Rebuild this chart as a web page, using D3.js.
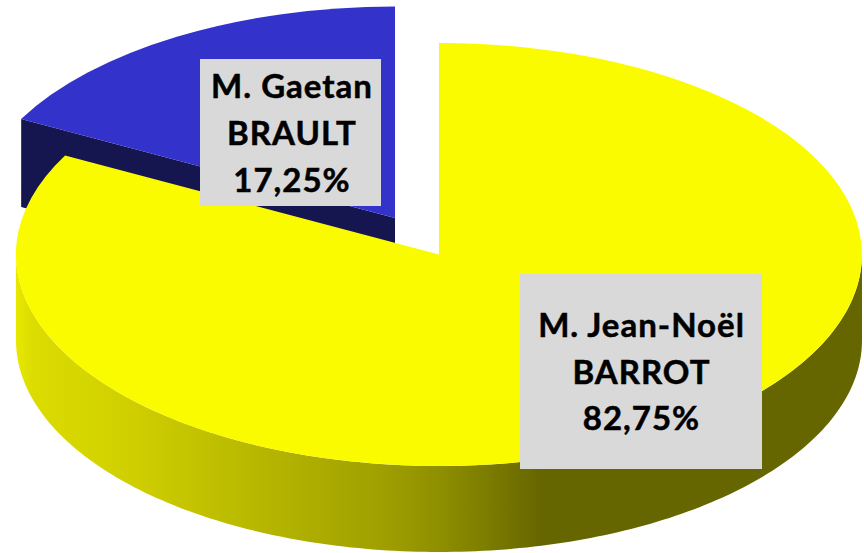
<!DOCTYPE html>
<html>
<head>
<meta charset="utf-8">
<style>html,body{margin:0;padding:0;background:#fff}svg{display:block}</style>
<script src="https://cdn.jsdelivr.net/npm/d3@7"></script>
</head>
<body>
<script>
const names = ["M. Jean-Noël BARROT", "M. Gaetan BRAULT"];
const labelLines = [["M. Jean-Noël", "BARROT", "82,75%"], ["M. Gaetan", "BRAULT", "17,25%"]];
const values = [82.75, 17.25];
const topColors = ["#fbfb00", "#3333cc"];
const cutColors = ["#666600", "#151550"];
const centers = [[439, 254.5], [395, 218]];
const depths = [86, 88];
const labelBoxes = [[520, 274, 242, 195], [200, 59, 181, 147]];
const labelBaselines = [[337, 383.5, 430], [98, 145, 192]];
const wallStops = [[0, "#e8e800"], [0.02, "#dcdc00"], [0.13, "#d0d000"], [0.28, "#b8b800"], [0.43, "#a0a000"], [0.5, "#8f8f00"], [0.56, "#7b7b00"], [0.62, "#666600"], [1, "#666600"]];

const W = 864, H = 553, rx = 423, ry = 211.5;
const svg = d3.select("body").append("svg").attr("width", W).attr("height", H);

const grad = svg.append("defs").append("linearGradient").attr("id", "wall")
  .attr("gradientUnits", "userSpaceOnUse").attr("x1", 16).attr("x2", 862).attr("y1", 0).attr("y2", 0);
grad.selectAll("stop").data(wallStops).join("stop")
  .attr("offset", d => d[0]).attr("stop-color", d => d[1]);

const slices = d3.pie().sort(null)(values);
const arc = d3.arc().innerRadius(0).outerRadius(1);
const px = (c, a) => c[0] + rx * Math.sin(a);
const py = (c, a) => c[1] - ry * Math.cos(a);

// blue cut face (back slice)
const blue = slices[1], bc = centers[1];
svg.append("path")
  .attr("d", d3.line()([
    [bc[0], bc[1]],
    [px(bc, blue.startAngle), py(bc, blue.startAngle)],
    [px(bc, blue.startAngle), py(bc, blue.startAngle) + depths[1]],
    [bc[0], bc[1] + depths[1]]
  ]) + "Z")
  .attr("fill", cutColors[1]);

// yellow outer wall (front half)
const yc = centers[0];
const angles = d3.range(0, 181).map(d => Math.PI / 2 + d * Math.PI / 180);
svg.append("path")
  .attr("d", d3.area()
    .x(a => px(yc, a))
    .y0(a => py(yc, a))
    .y1(a => py(yc, a) + depths[0])(angles))
  .attr("fill", "url(#wall)");

// top faces: blue first, then yellow above it
[1, 0].forEach(i => {
  svg.append("path")
    .attr("d", arc(slices[i]))
    .attr("transform", `translate(${centers[i][0]},${centers[i][1]}) scale(${rx},${ry})`)
    .attr("fill", topColors[i]);
});

// labels
labelLines.forEach((lines, i) => {
  const b = labelBoxes[i];
  const g = svg.append("g").attr("aria-label", names[i]);
  g.append("rect").attr("x", b[0]).attr("y", b[1]).attr("width", b[2]).attr("height", b[3]).attr("fill", "#d9d9d9");
  const mid = b[0] + b[2] / 2;
  g.selectAll("text").data(lines).join("text")
    .attr("x", mid + (i === 0 ? 0.5 : 1.5))
    .attr("y", (d, j) => labelBaselines[i][j])
    .attr("text-anchor", "middle")
    .attr("font-family", "Lato, 'Open Sans', sans-serif")
    .attr("font-weight", 700)
    .attr("font-size", 33)
    .attr("letter-spacing", 1)
    .attr("stroke", "#000")
    .attr("stroke-width", 0.5)
    .attr("fill", "#000")
    .text(d => d);
});
</script>
</body>
</html>
